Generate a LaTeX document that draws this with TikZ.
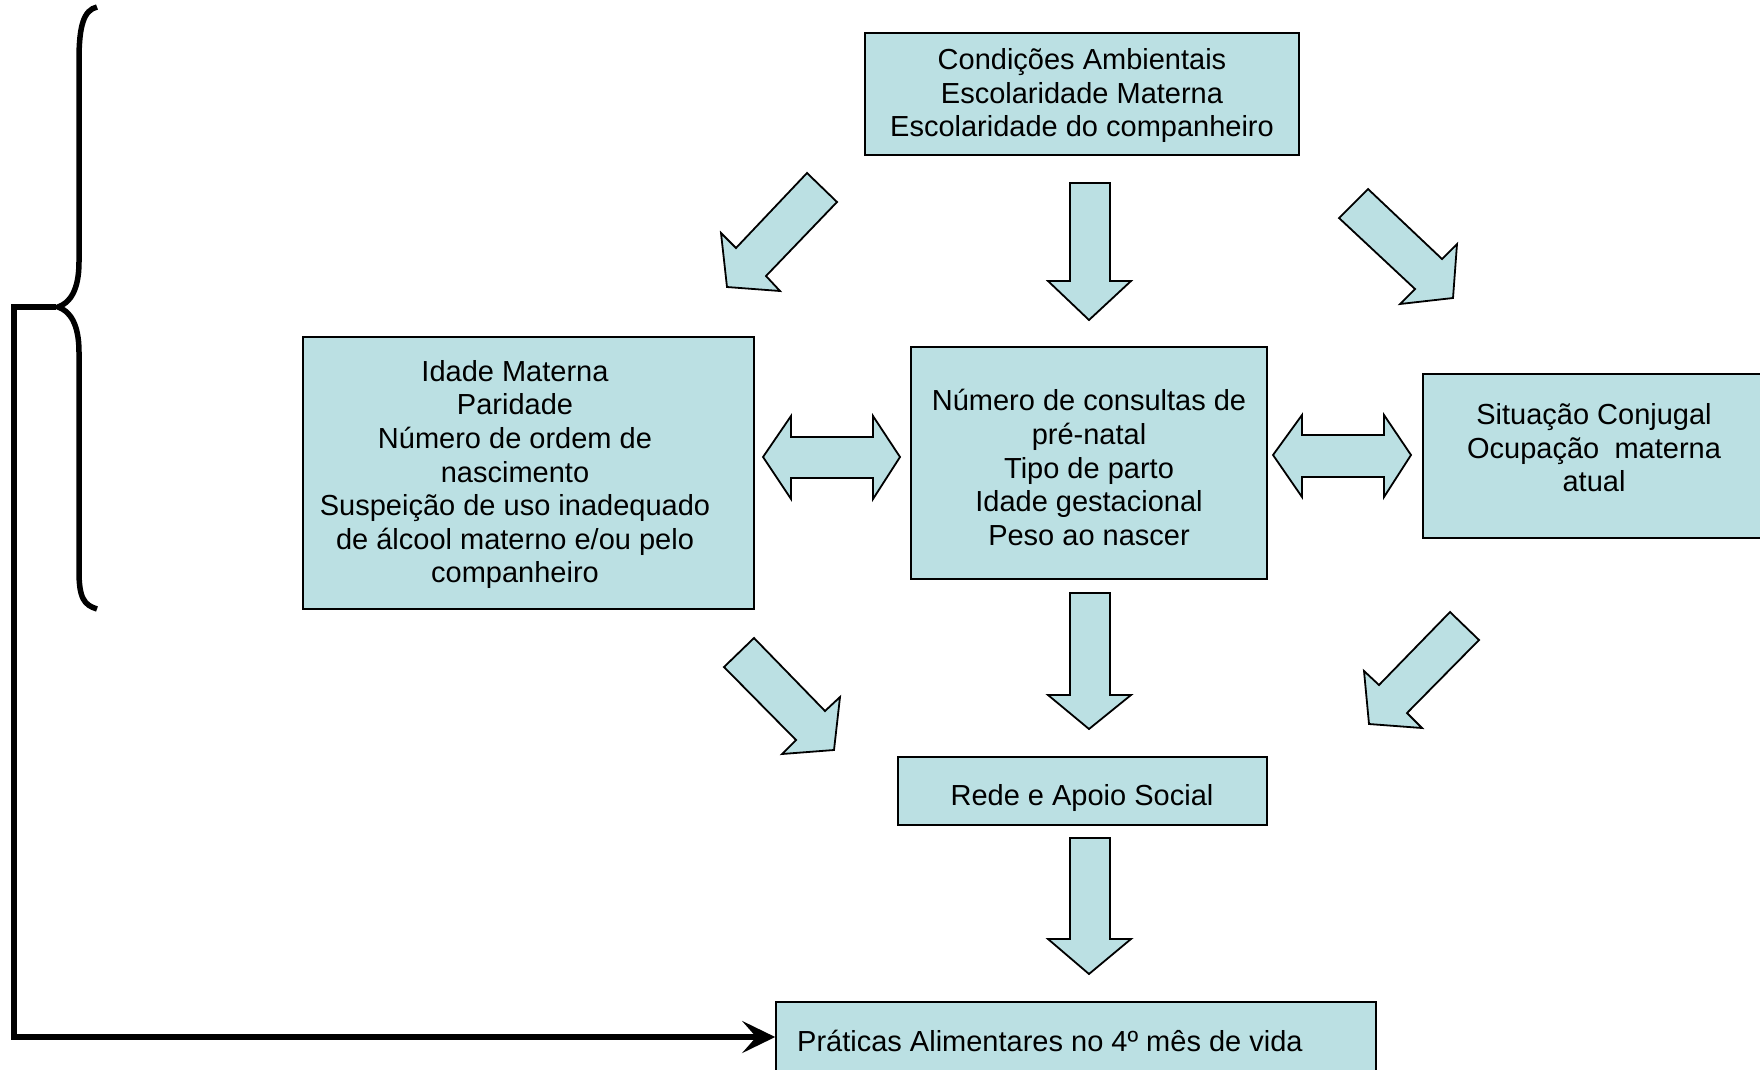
\documentclass[tikz,border=0pt]{standalone}
\usepackage{fontspec}
\setmainfont{Liberation Sans}
\usetikzlibrary{arrows.meta}
\definecolor{boxfill}{HTML}{BBE0E3}
\begin{document}
\begin{tikzpicture}[x=1pt,y=-1pt,
  box/.style={draw, line width=1.6, fill=boxfill, inner sep=0pt, rectangle},
  txt/.style={align=center, inner sep=0pt, font=\fontsize{29}{33.6}\selectfont},
  blk/.style={draw, fill=boxfill, line width=1.8, line join=miter},
  bracket/.style={draw, line width=5.5, line join=miter}]
\useasboundingbox (0,0) rectangle (1760,1069);
\fill[white] (0,0) rectangle (1760,1069);

% boxes
\node[box, minimum width=434, minimum height=122] (T) at (1082,94) {};
\node[txt] (Tt) at (1082,95.5) {Condições Ambientais\\Escolaridade Materna\\Escolaridade do companheiro};

\node[box, minimum width=451, minimum height=272] (L) at (528.5,473) {};
\node[txt] (Lt) at (515,474.5) {Idade Materna\\Paridade\\Número de ordem de\\nascimento\\Suspeição de uso inadequado\\de álcool materno e/ou pelo\\companheiro};

\node[box, minimum width=356, minimum height=232] (C) at (1089,463) {};
\node[txt] (Ct) at (1089,467.5) {Número de consultas de\\pré-natal\\Tipo de parto\\Idade gestacional\\Peso ao nascer};

\node[box, minimum width=345, minimum height=164] (R) at (1595.5,456) {};
\node[txt] (Rt) at (1594,448) {Situação Conjugal\\Ocupação\hspace{0.25em} materna\\atual};

\node[box, minimum width=369, minimum height=68] (S) at (1082.5,791) {};
\node[txt] (St) at (1082,798) {Rede e Apoio Social};

\node[box, minimum width=600, minimum height=70] (P) at (1076,1037) {};
\node[txt, anchor=west] (Pt) at (797,1041) {Práticas Alimentares no 4º mês de vida};

% block arrows
\draw[blk] (807,173) -- (837,202) -- (766,276) -- (780,291) -- (727,287) -- (721,233) -- (736,248) -- cycle;
\draw[blk] (1070,183) -- (1110,183) -- (1110,281) -- (1131,281) -- (1089,320) -- (1048,281) -- (1070,281) -- cycle;
\draw[blk] (1368,189) -- (1442,259) -- (1457,244) -- (1453,298) -- (1400,304) -- (1415,289) -- (1339,218) -- cycle;

\draw[blk] (763,457) -- (791,416) -- (791,437) -- (873,437) -- (873,416) -- (900,457) -- (873,499) -- (873,478) -- (791,478) -- (791,499) -- cycle;
\draw[blk] (1273,455) -- (1302,415) -- (1302,435) -- (1384,435) -- (1384,415) -- (1411,455) -- (1384,497) -- (1384,477) -- (1302,477) -- (1302,497) -- cycle;

\draw[blk] (754,638) -- (825,711) -- (840,697) -- (834,750) -- (782,754) -- (796,740) -- (724,667) -- cycle;
\draw[blk] (1070,593) -- (1110,593) -- (1110,695) -- (1131,695) -- (1089,729) -- (1048,695) -- (1070,695) -- cycle;
\draw[blk] (1450,612) -- (1479,640) -- (1407,713) -- (1422,728) -- (1369,724) -- (1364,671) -- (1379,685) -- cycle;

\draw[blk] (1070,838) -- (1110,838) -- (1110,939) -- (1131,939) -- (1089,974) -- (1048,939) -- (1070,939) -- cycle;

% brace
\draw[bracket] (97,7) .. controls (84,10) and (79,25) .. (79,60) -- (79,262)
  .. controls (79,290) and (70,303) .. (58,307)
  .. controls (70,311) and (79,324) .. (79,352) -- (79,571)
  .. controls (79,598) and (84,605) .. (97,609);
\coordinate (bt) at (56,307);
\coordinate (corner) at (14,307);
\draw[bracket, -{Stealth[length=33pt, width=32pt, inset=14pt]}] (bt) -- (corner) |- (P.west);
\end{tikzpicture}
\end{document}
